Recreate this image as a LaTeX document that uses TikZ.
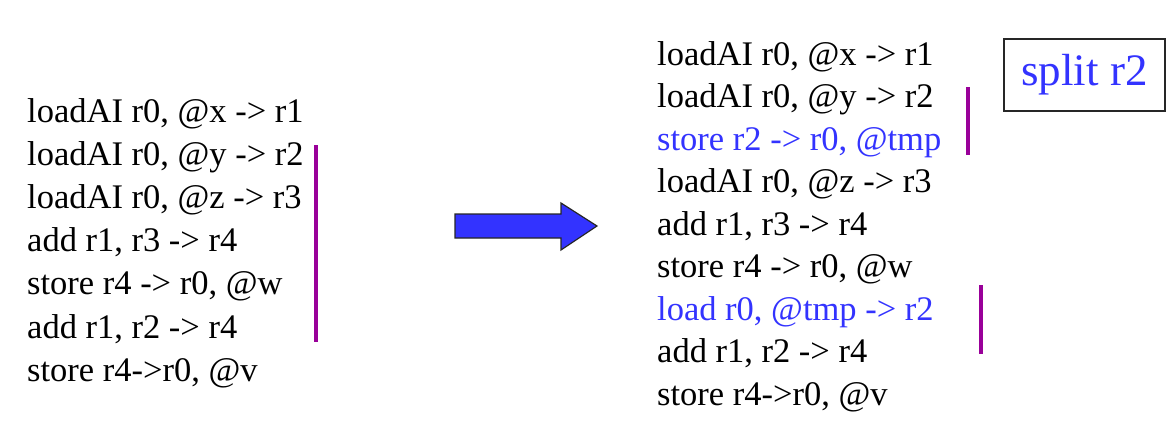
\documentclass[tikz,border=0pt]{standalone}
\usepackage{fontspec}
\setmainfont{Liberation Serif}
\usepackage{tikz}
\usetikzlibrary{positioning}
\definecolor{codeblue}{RGB}{51,51,255}
\definecolor{livepurple}{RGB}{153,0,153}
\tikzset{
  code/.style={anchor=base west, inner sep=0pt, font=\fontsize{34.5}{40}\selectfont},
  live/.style={livepurple, line width=3.5pt},
}
\begin{document}
\begin{tikzpicture}[x=1pt, y=-1pt]
\useasboundingbox (0,0) rectangle (1171,429);
% before
\node[code] (a1) at (27,122.0) {loadAI r0, @x -> r1};
\node[code] (a2) at (27,165.2) {loadAI r0, @y -> r2};
\node[code] (a3) at (27,208.4) {loadAI r0, @z -> r3};
\node[code] (a4) at (27,251.6) {add r1, r3 -> r4};
\node[code] (a5) at (27,294.8) {store r4 -> r0, @w};
\node[code] (a6) at (27,338.0) {add r1, r2 -> r4};
\node[code] (a7) at (27,381.2) {store r4->r0, @v};
\draw[live](316,145)--(316,342);
% the arrow
\draw[fill=codeblue, draw=black!85, line width=1.2pt]
  (455,214)--(561,214)--(561,203)--(597,226)--(561,250)--(561,238)--(455,238)--cycle;
% after
\node[code] (b1) at (657,65.0) {loadAI r0, @x -> r1};
\node[code] (b2) at (657,107.5) {loadAI r0, @y -> r2};
\node[code, codeblue] (b3) at (657,150.0) {store r2 -> r0, @tmp};
\node[code] (b4) at (657,192.5) {loadAI r0, @z -> r3};
\node[code] (b5) at (657,235.0) {add r1, r3 -> r4};
\node[code] (b6) at (657,277.5) {store r4 -> r0, @w};
\node[code, codeblue] (b7) at (657,320.0) {load r0, @tmp -> r2};
\node[code] (b8) at (657,362.5) {add r1, r2 -> r4};
\node[code] (b9) at (657,405.0) {store r4->r0, @v};
\draw[live](968,87)--(968,155);
\draw[live](981,285)--(981,354);
\node[draw=black!85, line width=1.5pt, minimum width=161pt, minimum height=72pt,
  text=codeblue, font=\fontsize{45}{50}\selectfont] (split) at (1084.5,75) {split r2};
\end{tikzpicture}
\end{document}
